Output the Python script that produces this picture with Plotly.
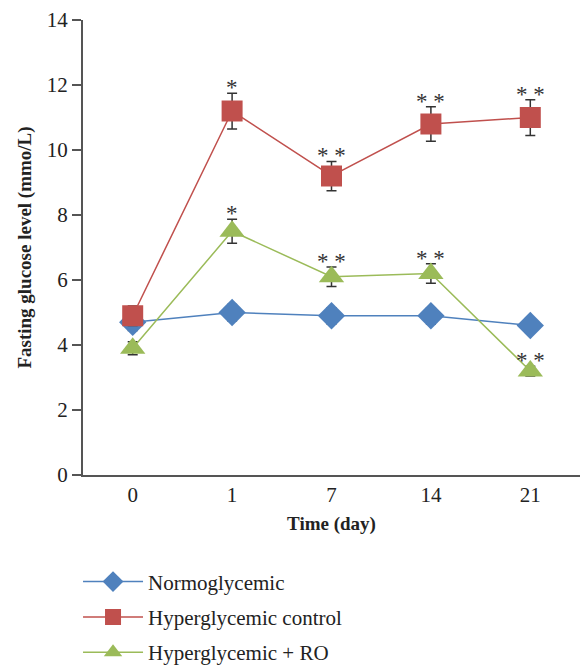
import plotly.graph_objects as go

days = ["0", "1", "7", "14", "21"]
normo = [4.7, 5.0, 4.9, 4.9, 4.6]
normo_err = [0.25, 0.25, 0.25, 0.25, 0.2]
hyper = [4.9, 11.2, 9.2, 10.8, 11.0]
hyper_err = [0.3, 0.55, 0.45, 0.53, 0.55]
ro = [3.9, 7.5, 6.1, 6.2, 3.2]
ro_err = [0.2, 0.37, 0.3, 0.3, 0.15]
hyper_sig = ["", "*", "* *", "* *", "* *"]
ro_sig = ["", "*", "* *", "* *", "* *"]

names = ["Normoglycemic", "Hyperglycemic control", "Hyperglycemic + RO"]
colors = ["#4F81BD", "#C0504D", "#9BBB59"]
symbols = ["diamond", "square", "triangle-up"]
sizes = [21, 21, 22]
series = [normo, hyper, ro]
errs = [normo_err, hyper_err, ro_err]

SERIF = "Liberation Serif"

fig = go.Figure()
for i in range(3):
    fig.add_trace(go.Scatter(
        x=days, y=series[i], name=names[i], mode="lines+markers",
        legendgroup=str(i),
        line=dict(color=colors[i], width=1.5),
        marker=dict(symbol=symbols[i], size=sizes[i], color=colors[i]),
        error_y=dict(type="data", array=errs[i], visible=True,
                     color="#333333", thickness=1.5, width=5),
    ))

for vals, err, sig in [(hyper, hyper_err, hyper_sig), (ro, ro_err, ro_sig)]:
    for idx, (v, e, s) in enumerate(zip(vals, err, sig)):
        if s:
            fig.add_annotation(x=idx, y=v + e, text=s, showarrow=False,
                               yanchor="bottom", yshift=-9,
                               font=dict(family=SERIF, size=23, color="#333333"))

fig.update_layout(
    width=582, height=665,
    margin=dict(l=83, r=2, t=20, b=190, autoexpand=False),
    plot_bgcolor="white", paper_bgcolor="white",
    font=dict(family=SERIF, size=21, color="#222222"),
    showlegend=True,
    legend=dict(x=-0.01, xanchor="left", y=-0.19, yanchor="top",
                tracegroupgap=5, itemwidth=60,
                font=dict(family=SERIF, size=21, color="#222222")),
    xaxis=dict(type="category", range=[-0.5, 4.5], showline=True, automargin=False,
               linecolor="#555555", linewidth=2, ticks="", showgrid=False,
               tickfont=dict(family=SERIF, size=21),
               title=dict(text="<b>Time (day)</b>", standoff=10,
                          font=dict(family=SERIF, size=19))),
    yaxis=dict(range=[0, 14], dtick=2, showline=True, linecolor="#555555",
               linewidth=2, ticks="outside", ticklen=9, tickwidth=1.5, automargin=False,
               tickcolor="#555555", showgrid=False, zeroline=False,
               tickfont=dict(family=SERIF, size=21),
               title=dict(text="<b>Fasting glucose level (mmo/L)</b>", standoff=10,
                          font=dict(family=SERIF, size=19))),
)

fig.write_html("out.html", config={"displayModeBar": False},
               post_script="document.body.style.margin='0';")
